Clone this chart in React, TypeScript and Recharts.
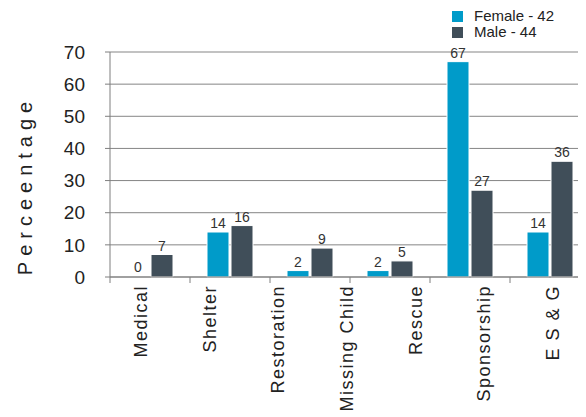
import React from 'react';
import { BarChart, Bar, XAxis, YAxis, CartesianGrid, LabelList, Rectangle } from 'recharts';

const categories = ['Medical', 'Shelter', 'Restoration', 'Missing Child', 'Rescue', 'Sponsorship', 'E S & G'];
const female = [0, 14, 2, 2, 67, 14];
const male = [7, 16, 9, 5, 27, 36];
const yTicks = [0, 10, 20, 30, 40, 50, 60, 70];
const seriesNames = ['Female - 42', 'Male - 44'];
const FEMALE_COLOR = '#009bc9';
const MALE_COLOR = '#404e59';
const FONT = '"Liberation Sans", Arial, Helvetica, sans-serif';

const data = female.map((f, i) => ({ group: categories[i], female: f, male: male[i] }));
const labelData = categories.map((c) => ({ name: c }));

const BoundaryTick = (props: any) => {
  const { x, y, payload } = props;
  const off = payload && typeof payload.offset === 'number' ? payload.offset : 0;
  return <line x1={x - off} x2={x - off} y1={y} y2={y + 6} stroke="#7f7f7f" strokeWidth={1} />;
};

const LabelTick = (props: any) => {
  const { x, y, payload } = props;
  return (
    <text
      x={x}
      y={y}
      transform={`rotate(-90, ${x}, ${y})`}
      textAnchor="end"
      dominantBaseline="central"
      fontSize={18}
      letterSpacing={1.5}
      fill="#222"
      fontFamily={FONT}
    >
      {payload.value}
    </text>
  );
};

const YLabel = (props: any) => {
  const vb = props.viewBox || { x: 0, y: 44, width: 102, height: 225 };
  const cx = vb.x + 17;
  const cy = vb.y + vb.height / 2 + 21;
  return (
    <text
      x={cx}
      y={cy}
      transform={`rotate(-90, ${cx}, ${cy})`}
      textAnchor="middle"
      dominantBaseline="central"
      fontSize={20}
      letterSpacing={6}
      fill="#222"
      fontFamily={FONT}
    >
      Perceentage
    </text>
  );
};

const fmt = (v: any) => String(v);
const zeroMin = (v: any) => (v === 0 ? 1 : 0);

const makeShape = (key: string) => (props: any) => {
  if (props.payload && props.payload[key] === 0) return <g />;
  return <Rectangle {...props} />;
};

export default function App() {
  return (
    <div style={{ width: 578, height: 409, overflow: 'hidden', position: 'relative', fontFamily: FONT }}>
      <BarChart
        width={588}
        height={409}
        data={data}
        margin={{ top: 44, right: 6, bottom: 12, left: 0 }}
        barGap={2}
        barSize={22}
        style={{ fontFamily: FONT }}
      >
        <CartesianGrid vertical={false} stroke="#858585" strokeWidth={1} />
        <XAxis
          dataKey="group"
          height={128}
          axisLine={{ stroke: '#7f7f7f' }}
          tickLine={false}
          tickSize={0}
          tickMargin={0}
          tick={<BoundaryTick />}
          interval={0}
        />
        <YAxis
          width={102}
          domain={[0, 70]}
          ticks={yTicks}
          interval={0}
          tickSize={5}
          tickMargin={20}
          axisLine={{ stroke: '#7f7f7f' }}
          tickLine={{ stroke: '#7f7f7f' }}
          tick={{ fontSize: 19, fill: '#222', fontFamily: FONT }}
          label={<YLabel />}
        />
        <Bar
          dataKey="female"
          name={seriesNames[0]}
          fill={FEMALE_COLOR}
          stroke="#fff"
          strokeWidth={1}
          minPointSize={zeroMin}
          shape={makeShape('female')}
          isAnimationActive={false}
        >
          <LabelList dataKey="female" position="top" offset={4} fontSize={14} fill="#333" fontFamily={FONT} formatter={fmt} />
        </Bar>
        <Bar
          dataKey="male"
          name={seriesNames[1]}
          fill={MALE_COLOR}
          stroke="#fff"
          strokeWidth={1}
          minPointSize={zeroMin}
          shape={makeShape('male')}
          isAnimationActive={false}
        >
          <LabelList dataKey="male" position="top" offset={4} fontSize={14} fill="#333" fontFamily={FONT} formatter={fmt} />
        </Bar>
      </BarChart>
      <div style={{ position: 'absolute', left: 0, top: 0, pointerEvents: 'none' }}>
        <BarChart
          width={588}
          height={409}
          data={labelData}
          margin={{ top: 44, right: 9, bottom: 12, left: 99 }}
          style={{ fontFamily: FONT }}
        >
          <XAxis
            dataKey="name"
            height={128}
            axisLine={false}
            tickLine={false}
            tickSize={0}
            tickMargin={8}
            tick={<LabelTick />}
            interval={0}
          />
        </BarChart>
      </div>
      <div style={{ position: 'absolute', left: 444, top: 0, fontSize: 15, color: '#222', lineHeight: '16px' }}>
        {[FEMALE_COLOR, MALE_COLOR].map((c, i) => (
          <div key={i} style={{ display: 'flex', alignItems: 'center', height: 16 }}>
            <span style={{ display: 'inline-block', width: 11, height: 11, background: c, marginRight: 11 }} />
            <span>{seriesNames[i]}</span>
          </div>
        ))}
      </div>
    </div>
  );
}
